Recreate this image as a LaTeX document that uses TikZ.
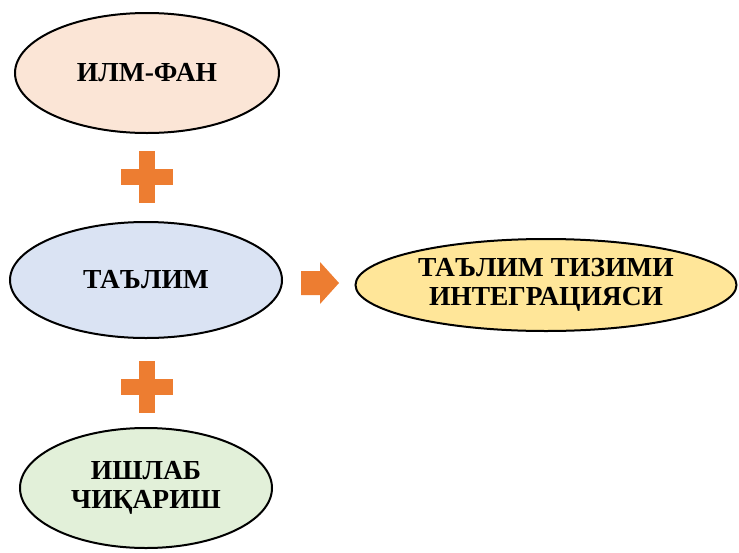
\documentclass[tikz,border=0pt]{standalone}
\usepackage{fontspec}
\setmainfont{Liberation Serif}
\usetikzlibrary{shapes.geometric}
\definecolor{peach}{HTML}{FBE5D6}
\definecolor{paleblue}{HTML}{DAE3F3}
\definecolor{paleyellow}{HTML}{FFE699}
\definecolor{palegreen}{HTML}{E2F0D9}
\definecolor{plusorange}{HTML}{ED7D31}
\tikzset{
  oval/.style={ellipse, draw=black, line width=2pt, inner sep=0pt, align=center,
    font=\fontsize{27.5}{29}\selectfont\bfseries},
  plussign/.style={fill=plusorange, draw=none}
}

\begin{document}
\begin{tikzpicture}[x=1pt, y=-1pt]
\useasboundingbox (0,0) rectangle (739,552);

\node[oval, fill=peach, minimum width=264pt, minimum height=120pt] (ilm) at (147,73) {ИЛМ-ФАН};
\node[oval, fill=paleblue, minimum width=272pt, minimum height=116pt] (talim) at (146,280) {ТАЪЛИМ};
\node[oval, fill=palegreen, minimum width=252pt, minimum height=120pt] (ishlab) at (146,488) {ИШЛАБ\\ЧИҚАРИШ};
\node[oval, fill=paleyellow, minimum width=381pt, minimum height=92pt] (integr) at (546,285) {ТАЪЛИМ ТИЗИМИ\\ИНТЕГРАЦИЯСИ};

%plus signs
{
\fill[plussign] (139,151) rectangle (155,203);
\fill[plussign] (121,169) rectangle (173,185);

\fill[plussign] (139,361) rectangle (155,413);
\fill[plussign] (121,379) rectangle (173,395);
}

%arrow
\fill[plussign] (301,271)--(320,271)--(320,262)--(339,283)--(320,304)--(320,295)--(301,295)--cycle;

\end{tikzpicture}
\end{document}
